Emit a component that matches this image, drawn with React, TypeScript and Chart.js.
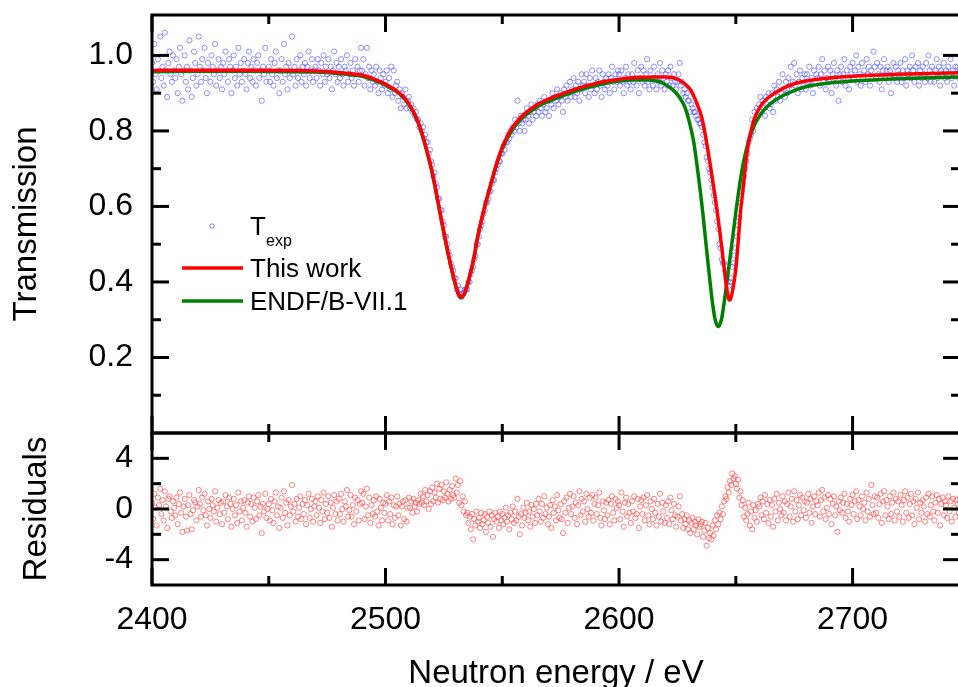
import React, { useEffect, useRef } from 'react';
import { Chart, registerables } from 'chart.js';

Chart.register(...registerables);

const FONT = '"Liberation Sans", Arial, Helvetica, sans-serif';
const EXP_COLOR = 'rgba(90,90,255,0.75)';
const RES_COLOR = 'rgba(255,70,70,0.75)';
const FIT_COLOR = '#ff0000';
const ENDF_COLOR = '#008000';

// Tick positions
const energyMajorTicks = [2400, 2500, 2600, 2700];
const energyMinorTicks = [2450, 2550, 2650];
const transMajorTicks = [0.2, 0.4, 0.6, 0.8, 1.0];
const transMinorTicks = [0.1, 0.3, 0.5, 0.7, 0.9];
const resMajorTicks = [-4, 0, 4];
const resMinorTicks = [-2, 2];

// "This work" fit curve
const fitEnergies = [
  2400, 2420, 2440, 2460, 2470, 2480, 2486, 2490, 2494, 2498, 2502, 2506, 2508, 2510, 2512, 2514, 2516, 2518,
  2520, 2522, 2524, 2526, 2528, 2530, 2531, 2532, 2533, 2534, 2535, 2536, 2537, 2538, 2539, 2540, 2542, 2544,
  2546, 2548, 2550, 2552, 2554, 2556, 2558, 2560, 2565, 2570, 2575, 2580, 2585, 2590, 2595, 2600, 2605, 2610,
  2615, 2620, 2623, 2625, 2627, 2629, 2631, 2633, 2634, 2635, 2636, 2637, 2638, 2639, 2640, 2641, 2642, 2643,
  2644, 2645, 2646, 2647, 2647.5, 2648, 2649, 2650, 2651, 2652, 2653, 2654, 2655, 2656, 2657, 2658, 2660, 2662,
  2665, 2670, 2675, 2680, 2690, 2700, 2720, 2746,
];
const fitThisWork = [
  .960, .961, .961, .960, .959, .955, .951, .948, .940, .930, .917, .900, .888, .872, .850, .822, .785, .740,
  .690, .628, .562, .500, .442, .392, .372, .360, .362, .373, .392, .415, .440, .468, .505, .535, .588, .635,
  .680, .722, .757, .784, .806, .823, .837, .848, .870, .885, .897, .908, .918, .926, .932, .937, .940, .942,
  .943, .943, .941, .937, .930, .920, .905, .878, .862, .845, .820, .787, .750, .712, .672, .630, .588, .540,
  .490, .437, .388, .354, .352, .360, .390, .435, .505, .585, .640, .700, .750, .785, .812, .833, .860, .877,
  .893, .912, .925, .932, .940, .945, .950, .954,
];

// ENDF/B-VII.1 curve
const endfEnergies = [
  2400, 2420, 2440, 2460, 2470, 2480, 2486, 2490, 2494, 2498, 2502, 2506, 2508, 2510, 2512, 2514, 2516, 2518,
  2520, 2522, 2524, 2526, 2528, 2530, 2531, 2532, 2533, 2534, 2535, 2536, 2537, 2538, 2539, 2540, 2542, 2544,
  2546, 2548, 2550, 2552, 2554, 2556, 2558, 2560, 2565, 2570, 2575, 2580, 2585, 2590, 2595, 2600, 2606, 2612,
  2616, 2619, 2622, 2624, 2626, 2628, 2629, 2630, 2631, 2632, 2633, 2634, 2635, 2636, 2637, 2638, 2639, 2640,
  2641, 2642, 2642.5, 2643, 2644, 2645, 2646, 2647, 2648, 2649, 2650, 2651, 2652, 2653, 2654, 2655, 2656, 2657,
  2658, 2660, 2662, 2665, 2670, 2675, 2680, 2690, 2700, 2720, 2746,
];
const endfValues = [
  .957, .958, .958, .957, .956, .952, .948, .945, .937, .927, .914, .898, .886, .870, .849, .821, .784, .739,
  .689, .627, .561, .499, .441, .391, .371, .359, .361, .372, .391, .414, .439, .467, .504, .534, .587, .634,
  .678, .719, .753, .779, .800, .817, .831, .842, .864, .879, .891, .902, .912, .920, .927, .932, .935, .935,
  .932, .926, .914, .903, .888, .866, .848, .826, .800, .770, .727, .680, .630, .575, .515, .455, .398, .345,
  .305, .285, .282, .285, .305, .345, .392, .440, .487, .535, .585, .630, .672, .708, .737, .762, .783, .801,
  .816, .838, .855, .873, .893, .907, .917, .927, .932, .938, .943,
];

// Experimental points (energy, transmission, residual)
const expEnergies = [
  2400,2400.5,2401,2401.5,2402,2402.5,2403,2403.5,2404,2404.5,
  2405,2405.5,2406,2406.5,2407,2407.5,2408,2408.5,2409,2409.5,
  2410,2410.5,2411,2411.5,2412,2412.5,2413,2413.5,2414,2414.5,
  2415,2415.5,2416,2416.5,2417,2417.5,2418,2418.5,2419,2419.5,
  2420,2420.5,2421,2421.5,2422,2422.5,2423,2423.5,2424,2424.5,
  2425,2425.5,2426,2426.5,2427,2427.5,2428,2428.5,2429,2429.5,
  2430,2430.5,2431,2431.5,2432,2432.5,2433,2433.5,2434,2434.5,
  2435,2435.5,2436,2436.5,2437,2437.5,2438,2438.5,2439,2439.5,
  2440,2440.5,2441,2441.5,2442,2442.5,2443,2443.5,2444,2444.5,
  2445,2445.5,2446,2446.5,2447,2447.5,2448,2448.5,2449,2449.5,
  2450,2450.5,2451,2451.5,2452,2452.5,2453,2453.5,2454,2454.5,
  2455,2455.5,2456,2456.5,2457,2457.5,2458,2458.5,2459,2459.5,
  2460,2460.5,2461,2461.5,2462,2462.5,2463,2463.5,2464,2464.5,
  2465,2465.5,2466,2466.5,2467,2467.5,2468,2468.5,2469,2469.5,
  2470,2470.5,2471,2471.5,2472,2472.5,2473,2473.5,2474,2474.5,
  2475,2475.5,2476,2476.5,2477,2477.5,2478,2478.5,2479,2479.5,
  2480,2480.5,2481,2481.5,2482,2482.5,2483,2483.5,2484,2484.5,
  2485,2485.5,2486,2486.5,2487,2487.5,2488,2488.5,2489,2489.5,
  2490,2490.5,2491,2491.5,2492,2492.5,2493,2493.5,2494,2494.5,
  2495,2495.5,2496,2496.5,2497,2497.5,2498,2498.5,2499,2499.5,
  2500,2500.5,2501,2501.5,2502,2502.5,2503,2503.5,2504,2504.5,
  2505,2505.5,2506,2506.5,2507,2507.5,2508,2508.5,2509,2509.5,
  2510,2510.5,2511,2511.5,2512,2512.5,2513,2513.5,2514,2514.5,
  2515,2515.5,2516,2516.5,2517,2517.5,2518,2518.5,2519,2519.5,
  2520,2520.5,2521,2521.5,2522,2522.5,2523,2523.5,2524,2524.5,
  2525,2525.5,2526,2526.5,2527,2527.5,2528,2528.5,2529,2529.5,
  2530,2530.5,2531,2531.5,2532,2532.5,2533,2533.5,2534,2534.5,
  2535,2535.5,2536,2536.5,2537,2537.5,2538,2538.5,2539,2539.5,
  2540,2540.5,2541,2541.5,2542,2542.5,2543,2543.5,2544,2544.5,
  2545,2545.5,2546,2546.5,2547,2547.5,2548,2548.5,2549,2549.5,
  2550,2550.5,2551,2551.5,2552,2552.5,2553,2553.5,2554,2554.5,
  2555,2555.5,2556,2556.5,2557,2557.5,2558,2558.5,2559,2559.5,
  2560,2560.5,2561,2561.5,2562,2562.5,2563,2563.5,2564,2564.5,
  2565,2565.5,2566,2566.5,2567,2567.5,2568,2568.5,2569,2569.5,
  2570,2570.5,2571,2571.5,2572,2572.5,2573,2573.5,2574,2574.5,
  2575,2575.5,2576,2576.5,2577,2577.5,2578,2578.5,2579,2579.5,
  2580,2580.5,2581,2581.5,2582,2582.5,2583,2583.5,2584,2584.5,
  2585,2585.5,2586,2586.5,2587,2587.5,2588,2588.5,2589,2589.5,
  2590,2590.5,2591,2591.5,2592,2592.5,2593,2593.5,2594,2594.5,
  2595,2595.5,2596,2596.5,2597,2597.5,2598,2598.5,2599,2599.5,
  2600,2600.5,2601,2601.5,2602,2602.5,2603,2603.5,2604,2604.5,
  2605,2605.5,2606,2606.5,2607,2607.5,2608,2608.5,2609,2609.5,
  2610,2610.5,2611,2611.5,2612,2612.5,2613,2613.5,2614,2614.5,
  2615,2615.5,2616,2616.5,2617,2617.5,2618,2618.5,2619,2619.5,
  2620,2620.5,2621,2621.5,2622,2622.5,2623,2623.5,2624,2624.5,
  2625,2625.5,2626,2626.5,2627,2627.5,2628,2628.5,2629,2629.5,
  2630,2630.5,2631,2631.5,2632,2632.5,2633,2633.5,2634,2634.5,
  2635,2635.5,2636,2636.5,2637,2637.5,2638,2638.5,2639,2639.5,
  2640,2640.5,2641,2641.5,2642,2642.5,2643,2643.5,2644,2644.5,
  2645,2645.5,2646,2646.5,2647,2647.5,2648,2648.5,2649,2649.5,
  2650,2650.5,2651,2651.5,2652,2652.5,2653,2653.5,2654,2654.5,
  2655,2655.5,2656,2656.5,2657,2657.5,2658,2658.5,2659,2659.5,
  2660,2660.5,2661,2661.5,2662,2662.5,2663,2663.5,2664,2664.5,
  2665,2665.5,2666,2666.5,2667,2667.5,2668,2668.5,2669,2669.5,
  2670,2670.5,2671,2671.5,2672,2672.5,2673,2673.5,2674,2674.5,
  2675,2675.5,2676,2676.5,2677,2677.5,2678,2678.5,2679,2679.5,
  2680,2680.5,2681,2681.5,2682,2682.5,2683,2683.5,2684,2684.5,
  2685,2685.5,2686,2686.5,2687,2687.5,2688,2688.5,2689,2689.5,
  2690,2690.5,2691,2691.5,2692,2692.5,2693,2693.5,2694,2694.5,
  2695,2695.5,2696,2696.5,2697,2697.5,2698,2698.5,2699,2699.5,
  2700,2700.5,2701,2701.5,2702,2702.5,2703,2703.5,2704,2704.5,
  2705,2705.5,2706,2706.5,2707,2707.5,2708,2708.5,2709,2709.5,
  2710,2710.5,2711,2711.5,2712,2712.5,2713,2713.5,2714,2714.5,
  2715,2715.5,2716,2716.5,2717,2717.5,2718,2718.5,2719,2719.5,
  2720,2720.5,2721,2721.5,2722,2722.5,2723,2723.5,2724,2724.5,
  2725,2725.5,2726,2726.5,2727,2727.5,2728,2728.5,2729,2729.5,
  2730,2730.5,2731,2731.5,2732,2732.5,2733,2733.5,2734,2734.5,
  2735,2735.5,2736,2736.5,2737,2737.5,2738,2738.5,2739,2739.5,
  2740,2740.5,2741,2741.5,2742,2742.5,2743,2743.5,2744,2744.5,
  2745,2745.5,2746,
];

const expTransmission = [
  .98,.93,1.03,.95,.91,.99,.96,1.05,.94,.97,
  .92,1.06,.96,.89,.98,1.01,.95,.93,1.00,.96,
  .94,.99,.90,.97,1.02,.95,.88,.96,1.00,.93,
  .97,.91,1.04,.96,.89,.94,1.01,.98,.92,.95,
  1.05,.97,.93,.99,.96,1.02,.94,.90,.98,.96,
  .93,1.00,.97,.95,1.03,.92,.96,.99,.94,.97,
  .91,.98,.95,1.01,.96,.93,.99,.97,.90,.96,
  1.00,.94,.97,.92,1.02,.95,.98,.93,.96,.99,
  .95,.91,.98,1.01,.94,.97,.93,.99,.96,.92,
  .98,1.00,.94,.96,.88,.97,.95,1.02,.93,.96,
  .97,.93,.99,.95,.92,.98,1.01,.94,.96,.90,
  .96,.99,.93,1.03,.95,.97,.91,.98,.94,.96,
  1.05,.95,.97,.92,.99,.94,.96,1.00,.93,.97,
  .95,.98,.92,.97,1.01,.94,.96,.99,.93,.96,
  .97,.94,.99,.96,.92,.98,.95,1.00,.93,.97,
  .95,.99,.94,.97,.91,.96,1.01,.95,.98,.93,
  .97,.94,.99,.95,.92,.97,.96,1.00,.93,.95,
  .98,.94,.96,.92,.99,.95,.97,.93,.96,1.02,
  .96,.99,.92,.95,1.02,.94,.97,.91,.96,.93,
  .95,.92,.97,.93,.90,.96,.94,.91,.95,.92,
  .93,.96,.90,.94,.91,.97,.89,.96,.90,.92,
  .93,.88,.91,.86,.90,.89,.87,.91,.86,.88,
  .89,.86,.87,.85,.86,.84,.85,.83,.83,.81,
  .82,.80,.81,.78,.79,.77,.77,.74,.75,.72,
  .71,.68,.69,.66,.65,.62,.62,.59,.59,.56,
  .55,.52,.52,.50,.48,.47,.45,.44,.43,.41,
  .41,.38,.39,.37,.38,.36,.37,.37,.38,.38,
  .38,.40,.40,.42,.43,.44,.46,.47,.50,.50,
  .52,.54,.55,.56,.58,.59,.61,.61,.62,.64,
  .64,.66,.67,.67,.69,.70,.71,.72,.72,.74,
  .74,.76,.75,.77,.77,.79,.78,.80,.79,.81,
  .80,.83,.81,.88,.82,.80,.84,.82,.83,.80,
  .83,.86,.84,.82,.85,.87,.83,.85,.86,.84,
  .87,.85,.88,.86,.84,.87,.89,.85,.86,.88,
  .84,.88,.87,.90,.86,.89,.88,.91,.87,.89,
  .90,.88,.85,.91,.89,.92,.88,.90,.93,.89,
  .91,.94,.89,.92,.90,.93,.88,.91,.95,.92,
  .93,.90,.95,.92,.89,.94,.91,.96,.92,.90,
  .94,.91,.93,.96,.92,.89,.95,.93,.91,.94,
  .92,.95,.90,.94,.97,.93,.91,.95,.93,.96,
  .95,.92,.96,.93,.90,.94,.97,.92,.95,.93,
  .91,.95,.93,.98,.94,.92,.96,.90,.94,.97,
  .93,.96,.92,.95,.99,.93,.91,.96,.94,.92,
  .97,.94,.91,.95,.93,.98,.92,.96,.94,.91,
  .95,.93,.96,.92,.97,.94,.92,.95,.93,.91,
  .93,.95,.98,.92,.93,.90,.91,.89,.90,.88,
  .88,.85,.87,.86,.85,.85,.84,.83,.83,.82,
  .82,.81,.79,.77,.76,.73,.72,.70,.69,.67,
  .65,.63,.61,.59,.56,.54,.50,.49,.46,.45,
  .45,.43,.42,.40,.39,.40,.41,.44,.45,.47,
  .49,.52,.55,.57,.61,.64,.66,.68,.70,.72,
  .74,.77,.78,.79,.83,.80,.85,.83,.86,.84,
  .87,.89,.85,.88,.86,.84,.89,.87,.90,.86,
  .87,.90,.85,.92,.88,.91,.89,.93,.88,.90,
  .95,.91,.89,.93,.90,.94,.92,.97,.91,.93,
  .98,.92,.95,.90,.93,.96,.91,.94,.92,.95,
  .91,.95,.93,.97,.92,.94,.90,.96,.93,.95,
  .94,.97,.92,.95,.99,.93,.96,.91,.94,.97,
  .93,.96,.90,.95,.98,.94,.92,.96,.88,.95,
  .97,.93,.95,.99,.92,.96,.94,.91,.97,.95,
  .98,.94,.96,1.00,.93,.97,.95,.92,.98,.94,
  .96,.93,.99,.95,.97,.92,.96,.94,1.01,.97,
  .94,.98,.95,.93,.97,.91,.96,.99,.94,.96,
  .97,.93,.96,.90,.95,.98,.94,.97,.93,.96,
  .95,.98,.93,.96,.94,.99,.92,.96,.95,.97,
  .94,1.00,.96,.93,.97,.95,.98,.92,.96,.94,
  .97,.95,.93,.98,.94,1.00,.96,.93,.97,.95,
  .93,.96,.99,.94,.97,.92,.96,.95,.98,.94,
  .96,.93,.97,.95,.99,.94,.96,.92,.97,.95,
  .97,.94,.96,
];

const expResiduals = [
  0.5,-0.8,1.2,0.1,-1.3,0.9,0.3,1.6,-0.4,0.7,
  -0.9,1.4,0.2,-1.5,0.8,1.0,-0.2,-0.7,0.6,0.1,
  -0.5,0.9,-1.2,0.4,1.3,-0.3,-1.8,0.2,0.8,-0.6,
  -1.7,0.3,1.1,-0.4,-1.6,-0.1,0.7,0.5,-0.9,0.2,
  1.5,0.4,-0.6,0.9,-0.1,1.2,-0.5,-1.3,0.6,0.0,
  -0.7,0.8,0.3,-0.2,1.4,-1.0,0.1,0.7,-0.4,0.5,
  -1.2,0.6,-0.3,1.1,0.2,-0.8,0.9,0.4,-1.4,0.0,
  0.8,-0.5,0.3,-1.1,1.3,-0.2,0.6,-0.9,0.1,0.7,
  -0.3,-1.4,0.5,1.0,-0.6,0.4,-1.0,0.9,0.1,-0.8,
  0.6,1.1,-0.5,0.2,-1.9,0.4,-0.2,1.2,-0.7,0.0,
  0.4,-0.9,0.8,-0.1,-1.1,0.6,1.3,-0.5,0.2,-1.5,
  0.1,0.9,-0.7,1.4,-0.3,0.5,-1.3,0.7,-0.5,0.2,
  1.9,-0.2,0.4,-1.0,0.8,-0.6,0.1,1.0,-0.8,0.4,
  -0.4,0.7,-1.2,0.3,1.2,-0.7,0.0,0.8,-1.0,0.2,
  0.6,-0.5,1.0,0.1,-1.1,0.7,-0.2,1.3,-0.8,0.4,
  -0.3,1.0,-0.7,0.5,-1.4,0.1,1.1,-0.4,0.6,-0.9,
  0.8,-0.4,1.2,0.0,-1.0,0.6,0.2,1.5,-0.6,-0.1,
  1.1,-0.6,0.3,-1.2,0.9,-0.2,0.7,-0.9,0.4,1.4,
  0.5,1.2,-0.8,0.2,1.6,-0.5,0.9,-1.1,0.3,-0.4,
  0.7,-0.6,1.0,-0.2,-1.3,0.8,0.1,-0.9,0.5,-0.3,
  0.4,1.1,-0.9,0.6,-0.4,0.9,-1.2,0.3,-0.7,0.2,
  1.0,-0.5,0.4,-1.3,0.2,0.6,-0.8,0.7,-1.0,0.1,
  0.9,0.1,0.6,-0.3,0.8,0.2,0.5,-0.2,0.7,0.4,
  1.2,0.5,1.0,0.3,1.5,0.6,1.1,0.0,1.4,0.4,
  1.7,0.6,1.3,0.9,2.0,0.5,1.6,0.8,1.9,0.7,
  1.4,0.9,2.1,1.2,0.6,1.5,0.8,1.8,1.1,0.9,
  2.4,1.3,1.9,0.5,2.2,0.3,1.0,-0.2,0.6,-0.5,
  -0.3,-1.1,-0.6,-1.6,-0.4,-2.4,-0.8,-1.3,-0.2,-1.0,
  -0.7,-1.5,-0.3,-1.2,-0.9,-0.4,-1.8,-0.6,-1.1,-0.2,
  -1.4,-0.5,-2.2,-0.8,-0.3,-1.0,-0.6,-1.5,-0.2,-0.9,
  -0.4,-1.2,-0.7,0.1,-1.0,-0.5,-1.6,-0.3,-0.8,0.2,
  -1.1,-0.2,-0.9,0.8,-0.6,-2.0,-0.4,-1.3,0.1,-0.7,
  -0.3,0.5,-0.9,-0.2,-1.4,0.3,-0.6,0.0,-1.1,0.4,
  -0.5,0.8,-0.2,-1.0,0.4,-0.7,1.0,-0.4,0.1,-1.2,
  -0.6,0.3,-1.5,0.7,-0.3,0.2,-0.9,1.1,-0.1,-0.7,
  0.4,-0.8,-1.9,0.6,-0.3,0.9,-1.1,0.1,1.2,-0.4,
  0.2,1.0,-0.7,0.5,-1.2,0.3,1.4,-0.5,0.8,-0.2,
  0.6,-1.0,1.2,0.0,-0.6,0.9,-0.3,1.1,-0.9,0.4,
  0.9,-0.4,0.3,1.3,-0.7,-1.3,0.6,-0.1,-0.8,0.5,
  -0.5,0.7,-1.2,0.4,1.0,-0.3,-0.9,0.8,0.1,0.6,
  0.3,-0.8,1.3,-0.2,-1.4,0.5,0.9,-0.6,0.4,-0.3,
  -1.1,0.6,-0.2,1.0,-0.7,-0.4,0.8,-1.5,0.2,0.7,
  -0.4,0.9,-0.9,0.3,1.1,-0.5,-1.2,0.6,0.0,-0.8,
  0.8,-0.3,-1.3,0.4,-0.6,1.2,-1.0,0.5,-0.2,-1.1,
  0.3,-0.7,0.6,-1.2,0.9,-0.1,-0.8,0.4,-0.5,-1.4,
  -0.6,0.2,1.0,-0.9,-0.4,-1.5,-0.8,-1.2,-0.5,-1.6,
  -0.9,-1.9,-1.1,-0.7,-1.6,-1.0,-1.3,-2.0,-0.8,-1.4,
  -1.2,-1.0,-2.2,-1.7,-1.1,-2.9,-1.5,-2.3,-1.9,-2.4,
  -1.3,-2.1,-0.9,-1.6,-0.5,-1.2,-0.3,-0.8,0.2,-0.4,
  0.6,1.0,0.8,1.7,1.3,2.2,1.9,2.8,2.4,2.6,
  2.0,1.6,2.3,0.9,1.4,0.3,0.7,-0.6,0.1,-0.9,
  -0.4,0.5,-1.3,-0.2,-1.6,0.3,-0.7,-0.1,-1.0,0.4,
  0.2,0.9,-0.5,0.6,-0.8,1.1,-0.3,0.4,-1.1,0.7,
  -0.6,0.3,-1.4,0.8,-0.2,1.2,-0.9,0.5,0.0,-0.5,
  1.0,-0.3,0.6,-0.9,0.4,1.3,-0.6,0.2,0.8,-1.0,
  1.4,-0.2,0.7,-0.8,0.3,1.1,-0.5,0.9,-0.1,0.6,
  -0.7,0.5,1.2,-0.3,0.8,-1.1,0.2,1.0,-0.4,0.6,
  0.3,1.3,-0.6,0.7,1.5,-0.2,0.9,-0.8,0.1,1.1,
  -0.4,0.8,-1.2,0.4,1.0,-0.5,0.2,-1.8,0.6,-0.1,
  0.9,-0.3,0.5,1.2,-0.7,0.4,-0.2,-1.0,0.8,0.3,
  1.1,-0.4,0.6,1.4,-0.8,0.7,0.2,-0.5,1.0,0.0,
  0.5,-0.9,1.3,-0.2,0.8,-0.6,1.9,0.3,-0.4,1.0,
  -0.3,0.9,-0.7,0.4,1.2,-1.1,0.6,1.4,-0.5,0.7,
  0.2,-0.8,1.0,-0.4,0.5,1.3,-0.9,0.8,-0.2,0.6,
  -0.6,1.1,0.3,-1.0,0.7,1.4,-0.3,0.9,-0.7,0.4,
  1.2,-0.5,0.6,-1.2,0.8,0.1,1.3,-0.8,0.5,-0.3,
  0.7,0.2,-1.0,0.9,-0.4,1.2,-0.6,0.3,1.0,-0.2,
  -0.9,0.5,1.1,-0.3,0.8,-1.3,0.4,0.9,-0.5,0.6,
  0.3,-0.7,1.0,-0.2,0.6,-1.0,0.8,0.1,-0.6,0.7,
  0.4,-0.3,0.9,
];

const seg = (ctx: CanvasRenderingContext2D, x1: number, y1: number, x2: number, y2: number) => {
  ctx.beginPath();
  ctx.moveTo(x1, y1);
  ctx.lineTo(x2, y2);
  ctx.stroke();
};

const framePlugin = {
  id: 'frameTicks',
  afterDraw(chart: any) {
    const { ctx, chartArea } = chart;
    const xs = chart.scales.x;
    const yT = chart.scales.y;
    const yR = chart.scales.yRes;
    const L = chartArea.left;
    const R = chartArea.right;
    const MAJ = 17;
    const MIN = 9;
    ctx.save();
    ctx.strokeStyle = '#000';
    ctx.lineWidth = 3;
    ctx.lineCap = 'butt';
    for (const s of [yT, yR]) {
      ctx.strokeRect(L, s.top, R - L, s.bottom - s.top);
      for (const [vals, len] of [[energyMajorTicks, MAJ], [energyMinorTicks, MIN]] as [number[], number][]) {
        for (const v of vals) {
          const px = xs.getPixelForValue(v);
          seg(ctx, px, s.top, px, s.top + len);
          seg(ctx, px, s.bottom, px, s.bottom - len);
        }
      }
    }
    const yTicks: [any, number[], number][] = [
      [yT, transMajorTicks, MAJ], [yT, transMinorTicks, MIN],
      [yR, resMajorTicks, MAJ], [yR, resMinorTicks, MIN],
    ];
    for (const [s, vals, len] of yTicks) {
      for (const v of vals) {
        const py = s.getPixelForValue(v);
        seg(ctx, L, py, L + len, py);
        seg(ctx, R, py, R - len, py);
      }
    }
    ctx.restore();
  },
};

const legendPlugin = {
  id: 'customLegend',
  afterDraw(chart: any) {
    const { ctx, chartArea } = chart;
    const x0 = chartArea.left;
    const y0 = chartArea.top;
    ctx.save();
    ctx.strokeStyle = EXP_COLOR;
    ctx.lineWidth = 1;
    ctx.beginPath();
    ctx.arc(x0 + 60, y0 + 211, 2.2, 0, Math.PI * 2);
    ctx.stroke();
    ctx.lineWidth = 3.5;
    ctx.strokeStyle = FIT_COLOR;
    seg(ctx, x0 + 30, y0 + 253, x0 + 91, y0 + 253);
    ctx.strokeStyle = ENDF_COLOR;
    seg(ctx, x0 + 30, y0 + 286, x0 + 91, y0 + 286);
    ctx.fillStyle = '#000';
    ctx.textAlign = 'left';
    ctx.textBaseline = 'alphabetic';
    ctx.font = `26px ${FONT}`;
    ctx.fillText('T', x0 + 98, y0 + 220);
    ctx.fillText('This work', x0 + 98, y0 + 262);
    ctx.fillText('ENDF/B-VII.1', x0 + 98, y0 + 295);
    ctx.font = `16px ${FONT}`;
    ctx.fillText('exp', x0 + 114, y0 + 231);
    ctx.restore();
  },
};

const noScalePadding = (s: any) => {
  s.paddingTop = 0;
  s.paddingBottom = 0;
};

export default function App() {
  const ref = useRef<HTMLCanvasElement>(null);

  useEffect(() => {
    const canvas = ref.current;
    if (!canvas) return;
    Chart.defaults.font.family = FONT;
    const fitData = fitEnergies.map((e, i) => ({ x: e, y: fitThisWork[i] }));
    const endfData = endfEnergies.map((e, i) => ({ x: e, y: endfValues[i] }));
    const expData = expEnergies.map((e, i) => ({ x: e, y: expTransmission[i] }));
    const resData = expEnergies.map((e, i) => ({ x: e, y: expResiduals[i] }));

    const tickFont = { size: 32, family: FONT };
    const titleFont = { size: 33, family: FONT };

    const chart = new Chart(canvas, {
      type: 'scatter',
      data: {
        datasets: [
          {
            label: 'This work',
            data: fitData,
            yAxisID: 'y',
            showLine: true,
            borderColor: FIT_COLOR,
            borderWidth: 3.5,
            pointRadius: 0,
            cubicInterpolationMode: 'monotone',
            order: 0,
          },
          {
            label: 'ENDF/B-VII.1',
            data: endfData,
            yAxisID: 'y',
            showLine: true,
            borderColor: ENDF_COLOR,
            borderWidth: 3.5,
            pointRadius: 0,
            cubicInterpolationMode: 'monotone',
            order: 1,
          },
          {
            label: 'Texp',
            data: expData,
            yAxisID: 'y',
            showLine: false,
            pointRadius: 2.6,
            pointBorderWidth: 0.9,
            borderColor: EXP_COLOR,
            backgroundColor: 'rgba(0,0,0,0)',
            order: 2,
          },
          {
            label: 'Residuals',
            data: resData,
            yAxisID: 'yRes',
            showLine: false,
            pointRadius: 2.6,
            pointBorderWidth: 0.9,
            borderColor: RES_COLOR,
            backgroundColor: 'rgba(0,0,0,0)',
            order: 3,
          },
        ],
      } as any,
      options: {
        responsive: false,
        animation: false,
        devicePixelRatio: 1,
        events: [],
        layout: { padding: { top: 15, right: 10, left: 0, bottom: 0 } },
        plugins: { legend: { display: false }, tooltip: { enabled: false } },
        scales: {
          x: {
            type: 'linear',
            position: 'bottom',
            min: 2400,
            max: 2746,
            grid: { display: false, drawTicks: false },
            border: { display: false },
            afterBuildTicks: (s: any) => { s.ticks = energyMajorTicks.map((v) => ({ value: v })); },
            ticks: {
              padding: 16,
              font: tickFont,
              color: '#000',
              maxRotation: 0,
              autoSkip: false,
              callback: (v: any) => String(v),
            },
            title: {
              display: true,
              text: 'Neutron energy / eV',
              font: titleFont,
              color: '#000',
              padding: { top: 0, bottom: 6 },
            },
            afterFit: (s: any) => { s.height = 115; s.paddingLeft = 0; s.paddingRight = 0; },
          },
          yRes: {
            type: 'linear',
            position: 'left',
            stack: 'panels',
            stackWeight: 152,
            min: -6,
            max: 6,
            grid: { display: false, drawTicks: false },
            border: { display: false },
            afterBuildTicks: (s: any) => { s.ticks = resMajorTicks.map((v) => ({ value: v })); },
            ticks: {
              padding: 19,
              font: tickFont,
              color: '#000',
              callback: (v: any) => String(v),
            },
            title: {
              display: true,
              text: 'Residuals',
              font: titleFont,
              color: '#000',
              padding: { top: 17, bottom: 0 },
            },
            afterFit: (s: any) => { s.width = 152; noScalePadding(s); },
          },
          y: {
            type: 'linear',
            position: 'left',
            stack: 'panels',
            stackWeight: 418,
            min: 0,
            max: 1.107,
            grid: { display: false, drawTicks: false },
            border: { display: false },
            afterBuildTicks: (s: any) => { s.ticks = transMajorTicks.map((v) => ({ value: v })); },
            ticks: {
              padding: 19,
              font: tickFont,
              color: '#000',
              callback: (v: any) => Number(v).toFixed(1),
            },
            title: {
              display: true,
              text: 'Transmission',
              font: titleFont,
              color: '#000',
              padding: { top: 7, bottom: 0 },
            },
            afterFit: (s: any) => { s.width = 152; noScalePadding(s); },
          },
        },
      } as any,
      plugins: [framePlugin, legendPlugin],
    });
    return () => chart.destroy();
  }, []);

  return (
    <div
      style={{
        position: 'absolute',
        left: 0,
        top: 0,
        width: 958,
        height: 687,
        overflow: 'hidden',
        background: '#fff',
      }}
    >
      <canvas ref={ref} width={970} height={700} style={{ display: 'block', width: 970, height: 700 }} />
    </div>
  );
}
